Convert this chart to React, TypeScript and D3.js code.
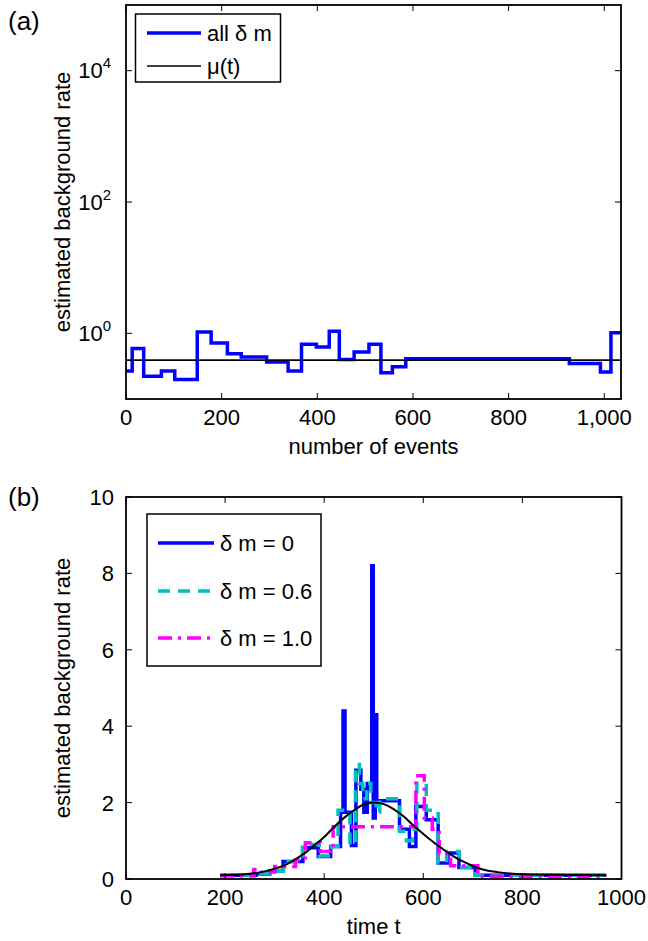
import React from 'react';
import * as d3 from 'd3';

// ---------- Panel (a) data ----------
const eventsA = [0, 13, 37, 74, 102, 149, 178, 212, 241, 294, 339, 367, 398, 425, 446, 477, 508, 533, 557, 585, 927, 992, 1014, 1035];
const rateA = [0.267, 0.585, 0.222, 0.267, 0.198, 1.05, 0.71, 0.49, 0.436, 0.366, 0.267, 0.68, 0.62, 1.08, 0.40, 0.52, 0.68, 0.25, 0.31, 0.41, 0.346, 0.258, 1.02, 1.02];
const muA = 0.39;
const xTicksA = [0, 200, 400, 600, 800, 1000];
const xTickLabelsA = ['0', '200', '400', '600', '800', '1,000'];
const yTicksA = [1, 100, 10000];
const yTickExpA = ['0', '2', '4'];
const legendA = ['all δ m', 'μ(t)'];

// ---------- Panel (b) data ----------
const timeB0 = [190, 262, 290, 317, 357, 388, 413, 433, 438, 442, 455, 464, 474, 480, 487, 496, 499, 503, 506, 552, 572, 585, 606, 630, 650, 672, 705, 968];
const rateB0 = [0.10, 0.13, 0.20, 0.46, 0.82, 0.59, 0.85, 1.75, 4.4, 1.75, 0.88, 2.85, 2.35, 1.75, 2.5, 8.2, 1.6, 4.3, 2.05, 1.3, 0.85, 1.9, 1.55, 0.42, 0.68, 0.3, 0.1, 0.1];
const timeB06 = [190, 265, 292, 318, 356, 390, 414, 428, 452, 463, 471, 478, 486, 494, 505, 512, 552, 566, 578, 587, 606, 630, 647, 672, 705, 968];
const rateB06 = [0.1, 0.14, 0.2, 0.46, 0.9, 0.6, 0.85, 1.8, 0.9, 3.0, 2.5, 2.1, 2.5, 2.0, 1.75, 2.1, 1.25, 1.0, 1.3, 2.5, 1.8, 0.42, 0.72, 0.3, 0.1, 0.1];
const timeB10 = [190, 258, 272, 300, 342, 362, 392, 418, 585, 602, 618, 632, 655, 710, 968];
const rateB10 = [0.08, 0.25, 0.18, 0.33, 0.5, 0.95, 0.72, 1.37, 2.7, 1.6, 1.3, 0.67, 0.35, 0.07, 0.07];
const muTimeB = [190, 220, 250, 280, 300, 320, 340, 360, 380, 400, 420, 440, 460, 480, 500, 520, 540, 560, 580, 600, 620, 640, 660, 680, 700, 720, 750, 790, 850, 970];
const muRateB = [0.1, 0.11, 0.14, 0.2, 0.27, 0.36, 0.5, 0.67, 0.88, 1.1, 1.36, 1.6, 1.8, 1.95, 2.0, 1.96, 1.83, 1.64, 1.4, 1.18, 0.97, 0.78, 0.6, 0.46, 0.34, 0.25, 0.18, 0.13, 0.11, 0.1];
const xTicksB = [0, 200, 400, 600, 800, 1000];
const yTicksB = [0, 2, 4, 6, 8, 10];
const legendB = ['δ m = 0', 'δ m = 0.6', 'δ m = 1.0'];

const FONT = "'Liberation Sans', Arial, Helvetica, sans-serif";
const BLUE = '#0000ff';
const CYAN = '#00bfbf';
const MAGENTA = '#ff00ff';

export default function App() {
  // geometry
  const aL = 126, aR = 621, aT = 5, aB = 399;
  const bL = 126, bR = 621.5, bT = 497, bB = 879;
  const xA = d3.scaleLinear().domain([0, 1035]).range([aL, aR]);
  const yA = d3.scaleLog().domain([0.1, 1e5]).range([aB, aT]);
  const xB = d3.scaleLinear().domain([0, 1000]).range([bL, bR]);
  const yB = d3.scaleLinear().domain([0, 10]).range([bB, bT]);

  const stepA = d3.line<number>()
    .x((_, i) => xA(eventsA[i]))
    .y((d) => yA(d))
    .curve(d3.curveStepAfter);
  const pathA = stepA(rateA) || '';

  const mkStep = (ts: number[]) => d3.line<number>()
    .x((_, i) => xB(ts[i]))
    .y((d) => yB(d))
    .curve(d3.curveStepAfter);
  const pB0 = mkStep(timeB0)(rateB0) || '';
  const pB06 = mkStep(timeB06)(rateB06) || '';
  const pB10 = mkStep(timeB10)(rateB10) || '';
  const pMu = d3.line<number>()
    .x((_, i) => xB(muTimeB[i]))
    .y((d) => yB(d))
    .curve(d3.curveMonotoneX)(muRateB) || '';

  const tickLen = 6;
  const fs = 22;

  return (
    <svg width={648} height={941} style={{ position: 'absolute', left: 0, top: 0, background: '#fff' }} fontFamily={FONT}>
      <defs>
        <clipPath id="clipA"><rect x={aL} y={aT} width={aR - aL} height={aB - aT} /></clipPath>
        <clipPath id="clipB"><rect x={bL} y={bT} width={bR - bL} height={bB - bT} /></clipPath>
      </defs>
      <rect x={0} y={0} width={648} height={941} fill="#fff" />

      {/* ---------------- Panel (a) ---------------- */}
      <text x={8} y={30} fontSize={26}>(a)</text>
      <g clipPath="url(#clipA)">
        <line x1={xA(0)} x2={xA(1035)} y1={yA(muA)} y2={yA(muA)} stroke="#000" strokeWidth={1.6} />
        <path d={pathA} fill="none" stroke={BLUE} strokeWidth={3.5} strokeLinejoin="miter" />
        <line x1={xA(0)} x2={xA(1035)} y1={yA(muA)} y2={yA(muA)} stroke="#000" strokeWidth={1.6} opacity={0.9} />
      </g>
      {xTicksA.map((t, i) => (
        <g key={'xa' + t}>
          <line x1={xA(t)} x2={xA(t)} y1={aB} y2={aB - tickLen} stroke="#000" strokeWidth={1} />
          <line x1={xA(t)} x2={xA(t)} y1={aT} y2={aT + tickLen} stroke="#000" strokeWidth={1} />
          <text x={xA(t)} y={aB + 25.5} fontSize={fs} textAnchor="middle">{xTickLabelsA[i]}</text>
        </g>
      ))}
      {yTicksA.map((v, i) => (
        <g key={'ya' + v}>
          <line x1={aL} x2={aL + tickLen} y1={yA(v)} y2={yA(v)} stroke="#000" strokeWidth={1} />
          <line x1={aR} x2={aR - tickLen} y1={yA(v)} y2={yA(v)} stroke="#000" strokeWidth={1} />
          <text x={111} y={yA(v) + 7.5} fontSize={fs} textAnchor="end">
            10<tspan dy={-10} fontSize={15}>{yTickExpA[i]}</tspan>
          </text>
        </g>
      ))}
      <rect x={aL} y={aT} width={aR - aL} height={aB - aT} fill="none" stroke="#000" strokeWidth={1.8} />
      <text x={(aL + aR) / 2} y={aB + 55} fontSize={fs} textAnchor="middle">number of events</text>
      <text transform={`translate(70,${(aT + aB) / 2}) rotate(-90)`} fontSize={fs} textAnchor="middle">estimated background rate</text>
      {/* legend a */}
      <rect x={135.5} y={14} width={145} height={68} fill="#fff" stroke="#000" strokeWidth={1.5} />
      <line x1={147} x2={201} y1={33} y2={33} stroke={BLUE} strokeWidth={3.5} />
      <line x1={147} x2={201} y1={66} y2={66} stroke="#000" strokeWidth={1.6} />
      <text x={207} y={41} fontSize={fs}>{legendA[0]}</text>
      <text x={207} y={74} fontSize={fs}>{legendA[1]}</text>

      {/* ---------------- Panel (b) ---------------- */}
      <text x={8} y={506} fontSize={26}>(b)</text>
      <g clipPath="url(#clipB)">
        <path d={pB0} fill="none" stroke={BLUE} strokeWidth={3.5} />
        <path d={pB06} fill="none" stroke={CYAN} strokeWidth={3.5} strokeDasharray="12,8" />
        <path d={pB10} fill="none" stroke={MAGENTA} strokeWidth={3.5} strokeDasharray="14,6,3,6" />
        <path d={pMu} fill="none" stroke="#000" strokeWidth={2} />
      </g>
      {xTicksB.map((t) => (
        <g key={'xb' + t}>
          <line x1={xB(t)} x2={xB(t)} y1={bB} y2={bB - tickLen} stroke="#000" strokeWidth={1} />
          <line x1={xB(t)} x2={xB(t)} y1={bT} y2={bT + tickLen} stroke="#000" strokeWidth={1} />
          <text x={xB(t)} y={bB + 25.5} fontSize={fs} textAnchor="middle">{String(t)}</text>
        </g>
      ))}
      {yTicksB.map((v) => (
        <g key={'yb' + v}>
          <line x1={bL} x2={bL + tickLen} y1={yB(v)} y2={yB(v)} stroke="#000" strokeWidth={1} />
          <line x1={bR} x2={bR - tickLen} y1={yB(v)} y2={yB(v)} stroke="#000" strokeWidth={1} />
          <text x={114} y={yB(v) + 8} fontSize={fs} textAnchor="end">{String(v)}</text>
        </g>
      ))}
      <rect x={bL} y={bT} width={bR - bL} height={bB - bT} fill="none" stroke="#000" strokeWidth={1.8} />
      <text x={(bL + bR) / 2} y={bB + 55} fontSize={fs} textAnchor="middle">time t</text>
      <text transform={`translate(70,${(bT + bB) / 2}) rotate(-90)`} fontSize={fs} textAnchor="middle">estimated background rate</text>
      {/* legend b */}
      <rect x={147} y={514} width={174} height={152} fill="#fff" stroke="#000" strokeWidth={1.5} />
      <line x1={158} x2={214} y1={543} y2={543} stroke={BLUE} strokeWidth={3.5} />
      <line x1={158} x2={214} y1={591} y2={591} stroke={CYAN} strokeWidth={3.5} strokeDasharray="12,8" />
      <line x1={158} x2={214} y1={638} y2={638} stroke={MAGENTA} strokeWidth={3.5} strokeDasharray="14,6,3,6" />
      <text x={220} y={551} fontSize={fs}>{legendB[0]}</text>
      <text x={220} y={599} fontSize={fs}>{legendB[1]}</text>
      <text x={220} y={646} fontSize={fs}>{legendB[2]}</text>
    </svg>
  );
}
